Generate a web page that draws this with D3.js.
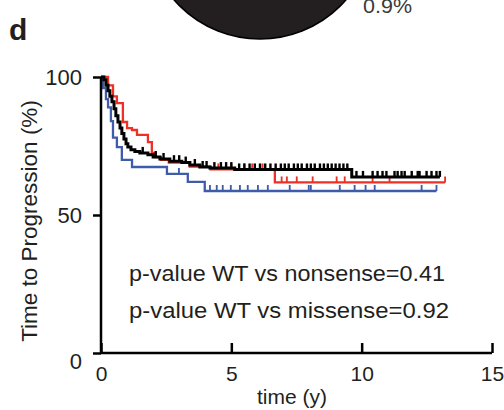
<!DOCTYPE html>
<html>
<head>
<meta charset="utf-8">
<script src="https://cdn.jsdelivr.net/npm/d3@7/dist/d3.min.js"></script>
<style>
  html, body { margin: 0; padding: 0; background: #fff; }
  svg { display: block; font-family: Arial, "Liberation Sans", Helvetica, sans-serif; }
</style>
</head>
<body>
<svg id="chart" width="504" height="410"></svg>
<script>
// ---- data ----
const xTicks = [0, 5, 10, 15];
const yTicks = [0, 50, 100];
const xLabel = "time (y)";
const yLabel = "Time to Progression (%)";
const pTexts = ["p-value WT vs nonsense=0.41", "p-value WT vs missense=0.92"];
const pieLabel = "0.9%";
const panelLabel = "d";

// WT (black): step times and survival after each step
const wtTimes = [0, 0.11, 0.19, 0.27, 0.34, 0.42, 0.50, 0.57, 0.65, 0.73, 0.80, 0.88, 0.96, 1.03, 1.15, 1.30, 1.49, 1.80, 2.00, 2.26, 2.64, 3.10, 3.41, 3.79, 4.18, 5.13, 9.62, 13.0];
const wtSurv  = [100, 99, 97, 95, 93, 91, 88.5, 86, 83.7, 81.5, 79.5, 77.5, 75.8, 74.6, 73.6, 73, 72.5, 71.8, 71, 70.3, 69.5, 69, 68.1, 67.4, 67, 66.5, 63.8, 63.8];
const wtCensor = [1.6, 2.1, 2.4, 2.8, 3.0, 3.25, 3.6, 3.9, 4.05, 4.35, 4.6, 4.8, 5.0, 5.3, 5.5, 5.7, 5.9, 6.1, 6.3, 6.5, 6.7, 6.9, 7.05, 7.2, 7.4, 7.55, 7.7, 7.9, 8.05, 8.2, 8.4, 8.55, 8.7, 8.85, 9.0, 9.15, 9.3, 9.45,
                  9.8, 10.05, 10.42, 10.61, 10.8, 10.95, 11.26, 11.38, 11.53, 11.65, 11.92, 12.15, 12.22, 12.49, 12.68, 12.87, 13.0];

// nonsense (red)
const redTimes = [0, 0.27, 0.46, 0.61, 0.84, 1.00, 1.19, 1.38, 1.80, 1.95, 2.07, 2.30, 2.60, 3.40, 4.20, 6.67, 13.2];
const redSurv  = [100, 97, 93, 90.5, 83.7, 81.5, 80.8, 79, 76.4, 72.5, 71, 70, 69, 67.5, 66.5, 61.8, 61.8];
const redCensor = [4.5, 5.0, 5.5, 5.8, 6.2, 6.93, 7.13, 7.51, 8.12, 9.04, 9.35, 10.42, 11.07, 13.2];

// missense (blue)
const blueTimes = [0, 0.08, 0.19, 0.27, 0.38, 0.46, 0.61, 0.80, 1.19, 2.53, 3.33, 3.98, 12.87];
const blueSurv  = [100, 96, 92, 89, 84, 78, 74.6, 70, 67.4, 64.9, 62, 58.7, 58.7];
const blueCensor = [2.99, 4.18, 4.44, 4.67, 4.98, 5.33, 5.63, 6.02, 6.40, 7.24, 7.97, 8.05, 9.16, 9.73, 10.15, 10.50, 12.30, 12.87];

// ---- drawing ----
const svg = d3.select("#chart");
const x = d3.scaleLinear().domain([0, 15]).range([101, 492]);
const y = d3.scaleLinear().domain([0, 100]).range([353, 77]);

// partial pie (top)
svg.append("circle")
  .attr("cx", 260).attr("cy", -75).attr("r", 114)
  .attr("fill", "#231f20").attr("stroke", "#000").attr("stroke-width", 1.5);
svg.append("text").attr("x", 363).attr("y", 13)
  .attr("font-size", 21).attr("fill", "#3a3a3a")
  .attr("textLength", 49).attr("lengthAdjust", "spacingAndGlyphs").text(pieLabel);

svg.append("text").attr("x", 9).attr("y", 40)
  .attr("font-size", 30).attr("font-weight", "bold").attr("fill", "#231f20").text(panelLabel);

function survival(times, surv, censor, color, width) {
  const pts = times.map((t, i) => [t, surv[i]]);
  const line = d3.line().x(d => x(d[0])).y(d => y(d[1])).curve(d3.curveStepAfter);
  svg.append("path").datum(pts)
    .attr("d", line).attr("fill", "none")
    .attr("stroke", color).attr("stroke-width", width).attr("stroke-linejoin", "miter");
  const at = t => {
    let v = surv[0];
    for (let i = 0; i < times.length; i++) if (times[i] <= t) v = surv[i];
    return v;
  };
  svg.append("g").selectAll("line").data(censor).join("line")
    .attr("x1", d => x(d)).attr("x2", d => x(d))
    .attr("y1", d => y(at(d))).attr("y2", d => y(at(d)) - 6)
    .attr("stroke", color).attr("stroke-width", width * 0.8);
}

survival(blueTimes, blueSurv, blueCensor, "#3f5ba9", 2.3);
survival(redTimes, redSurv, redCensor, "#ee3124", 2.3);
survival(wtTimes, wtSurv, wtCensor, "#000000", 3);

// axes
const yAxis = d3.axisLeft(y).tickValues(yTicks).tickSize(8).tickPadding(11);
const gy = svg.append("g").attr("transform", `translate(${x(0)},0)`).call(yAxis);
gy.select(".domain").attr("stroke-width", 2.5).attr("d", `M0,${y(100)}V${y(0)}`);
gy.selectAll(".tick line").attr("stroke-width", 2.5);
gy.selectAll(".tick text").attr("font-size", 22).attr("fill", "#231f20")
  .attr("font-family", "Arial, 'Liberation Sans', sans-serif")
  .attr("dy", d => d === 0 ? "0.7em" : "0.35em");

const xAxis = d3.axisBottom(x).tickValues(xTicks).tickSize(-10).tickPadding(13).tickSizeOuter(0);
const gx = svg.append("g").attr("transform", `translate(0,${y(0)})`).call(xAxis);
gx.select(".domain").attr("stroke-width", 2.5).attr("d", `M${x(0)},0H${x(15)}`);
gx.selectAll(".tick line").attr("stroke-width", 2.5);
gx.selectAll(".tick text").attr("font-size", 21).attr("fill", "#231f20")
  .attr("font-family", "Arial, 'Liberation Sans', sans-serif");

svg.append("text").attr("x", 292).attr("y", 404).attr("text-anchor", "middle")
  .attr("font-size", 21).attr("fill", "#231f20").text(xLabel);
svg.append("text").attr("transform", "translate(37,221) rotate(-90)")
  .attr("text-anchor", "middle").attr("font-size", 22.5).attr("fill", "#231f20").text(yLabel);

svg.append("g").selectAll("text").data(pTexts).join("text")
  .attr("x", 129).attr("y", (d, i) => 281 + i * 36.5)
  .attr("font-size", 22).attr("fill", "#231f20")
  .attr("textLength", (d, i) => i === 0 ? 316 : 320).attr("lengthAdjust", "spacingAndGlyphs")
  .text(d => d);
</script>
</body>
</html>
